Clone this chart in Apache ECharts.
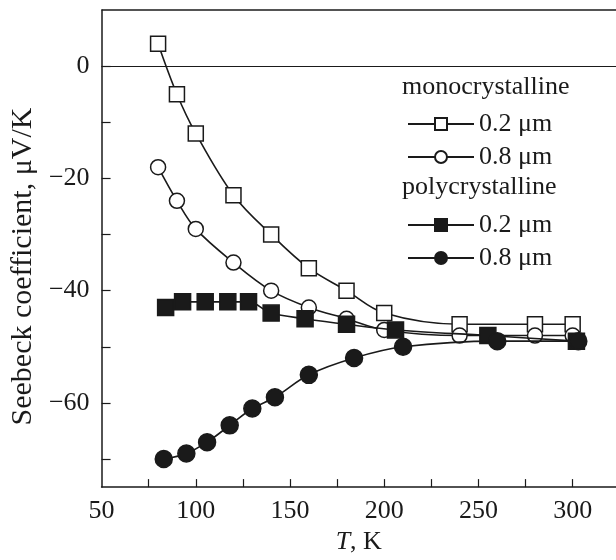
<!DOCTYPE html>
<html>
<head>
<meta charset="utf-8">
<script src="https://cdn.jsdelivr.net/npm/echarts@6/dist/echarts.min.js"></script>
<style>
    html, body { margin: 0; padding: 0; background: #fff; }
    #chart { width: 616px; height: 560px; }
</style>
</head>
<body>
<div id="chart"></div>
<script>
const FONT = '"Liberation Serif", "DejaVu Serif", serif';
const INK = '#1a1a1a';

// temperatures (K) and Seebeck coefficients (uV/K)
const monoThinT = [80, 90, 100, 120, 140, 160, 180, 200, 240, 280, 300];
const monoThinS = [4, -5, -12, -23, -30, -36, -40, -44, -46, -46, -46];

const monoThickT = [80, 90, 100, 120, 140, 160, 180, 200, 240, 280, 300];
const monoThickS = [-18, -24, -29, -35, -40, -43, -45, -47, -48, -48, -48];

const polyThinT = [84, 93, 105, 117, 128, 140, 158, 180, 206, 255, 302];
const polyThinS = [-43, -42, -42, -42, -42, -44, -45, -46, -47, -48, -49];

const polyThickT = [83, 95, 106, 118, 130, 142, 160, 184, 210, 260, 303];
const polyThickS = [-70, -69, -67, -64, -61, -59, -55, -52, -50, -49, -49];

const xLabelValues = [50, 100, 150, 200, 250, 300];
const xTickValues = [75, 100, 125, 150, 175, 200, 225, 250, 275, 300];
const yLabelValues = [-60, -40, -20, 0];
const yTickValues = [-70, -60, -50, -40, -30, -20, -10, 0];

const legendNames = {
    'mono 0.2': '0.2 μm',
    'mono 0.8': '0.8 μm',
    'poly 0.2': '0.2 μm',
    'poly 0.8': '0.8 μm'
};

function pairs(xs, ys) {
    return xs.map((x, i) => [x, ys[i]]);
}

function makeSeries(name, xs, ys, symbol, filled, size) {
    return {
        name,
        type: 'line',
        data: pairs(xs, ys),
        smooth: 0.35,
        symbol,
        symbolSize: size,
        lineStyle: { color: INK, width: 1.6 },
        itemStyle: {
            color: filled ? INK : '#fff',
            borderColor: INK,
            borderWidth: 1.5
        },
        emphasis: { disabled: true },
        z: filled ? 3 : 2
    };
}

const series = [
    makeSeries('mono 0.2', monoThinT, monoThinS, 'rect', false, 15),
    makeSeries('mono 0.8', monoThickT, monoThickS, 'circle', false, 15),
    makeSeries('poly 0.2', polyThinT, polyThinS, 'rect', true, 16),
    makeSeries('poly 0.8', polyThickT, polyThickS, 'circle', true, 17)
];

// zero reference line and the top frame line
series[0].markLine = {
    silent: true,
    symbol: 'none',
    label: { show: false },
    lineStyle: { color: INK, width: 1.2, type: 'solid' },
    data: [
        { yAxis: 0 },
        { yAxis: 10, lineStyle: { width: 1.6 } }
    ]
};

const legendBase = {
    orient: 'vertical',
    left: 402,
    itemWidth: 66,
    itemHeight: 15,
    itemGap: 7,
    selectedMode: false,
    formatter: (name) => legendNames[name],
    textStyle: { fontFamily: FONT, fontSize: 26, color: INK, padding: [0, 0, 0, 0] }
};

const axisFont = { fontFamily: FONT, fontSize: 26, color: INK };

const chart = echarts.init(document.getElementById('chart'));
chart.setOption({
    animation: false,
    backgroundColor: '#fff',
    grid: {
        left: 100,
        right: 0,
        top: 10,
        bottom: 68
    },
    legend: [
        Object.assign({}, legendBase, { top: 106, data: ['mono 0.2', 'mono 0.8'] }),
        Object.assign({}, legendBase, { top: 207, data: ['poly 0.2', 'poly 0.8'] })
    ],
    graphic: [
        {
            type: 'text', left: 402, top: 74,
            style: { text: 'monocrystalline', font: '26px ' + FONT, fill: INK }
        },
        {
            type: 'text', left: 402, top: 174,
            style: { text: 'polycrystalline', font: '26px ' + FONT, fill: INK }
        }
    ],
    xAxis: {
        type: 'value',
        min: 50,
        max: 323,
        name: '{i|T}, K',
        nameLocation: 'middle',
        nameGap: 40,
        nameTextStyle: Object.assign({}, axisFont, {
            rich: { i: Object.assign({ fontStyle: 'italic' }, axisFont) }
        }),
        axisLine: { show: true, onZero: false, lineStyle: { color: INK, width: 1.5 } },
        axisTick: { inside: true, length: 8, customValues: xTickValues, lineStyle: { color: INK, width: 1.2 } },
        minorTick: { show: false },
        axisLabel: Object.assign({ customValues: xLabelValues, margin: 11 }, axisFont),
        splitLine: { show: false }
    },
    yAxis: {
        type: 'value',
        min: -75,
        max: 10,
        name: 'Seebeck coefficient, μV/K',
        nameLocation: 'middle',
        nameGap: 61,
        nameTextStyle: { fontFamily: FONT, fontSize: 30, color: INK, padding: [0, 36, 0, 0] },
        axisLine: { show: true, onZero: false, lineStyle: { color: INK, width: 1.5 } },
        axisTick: { inside: true, length: 9, customValues: yTickValues, lineStyle: { color: INK, width: 1.2 } },
        minorTick: { show: false },
        axisLabel: Object.assign({
            customValues: yLabelValues,
            margin: 12,
            formatter: (v) => String(v).replace('-', '\u2212')
        }, axisFont),
        splitLine: { show: false }
    },
    series
});
</script>
</body>
</html>
